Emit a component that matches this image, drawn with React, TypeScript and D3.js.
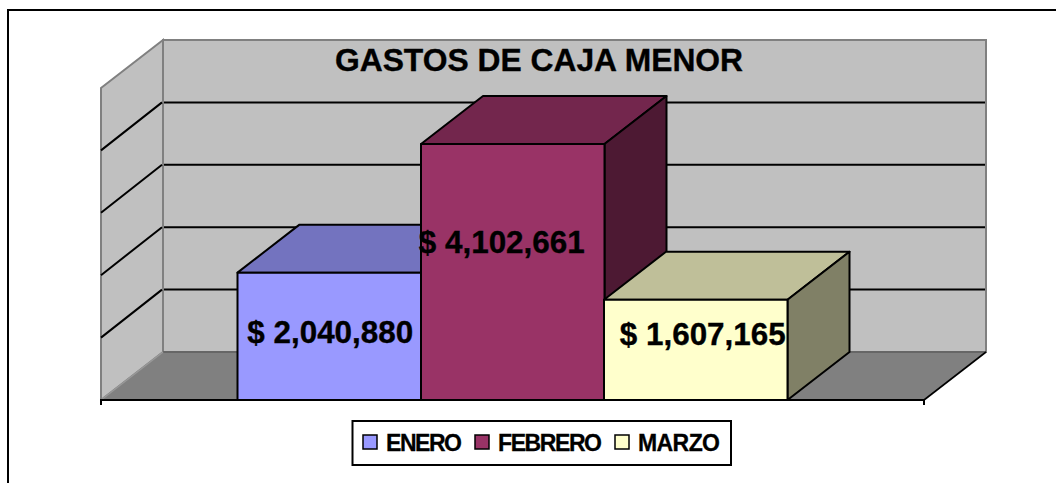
import React from "react";
import * as d3 from "d3";

const categories = ["ENERO", "FEBRERO", "MARZO"];
const values = [2040880, 4102661, 1607165];
const fills = ["#9999FF", "#993366", "#FFFFCC"];
const topFills = ["#7373BF", "#73264D", "#BFBF99"];
const sideFills = ["#4D4D80", "#4D1933", "#808066"];
const yTicks = [0, 1000000, 2000000, 3000000, 4000000, 5000000];
const labelShift = [1, -11, 7];
const labelBaseline = [343, 253, 345];
const legendSwatchX = [363, 475, 615];
const legendTextX = [386, 498, 638];
const legendTextW = [76, 104, 82];

const WIDTH = 1056;
const HEIGHT = 483;
const DX = 62;
const DY = 48;

const x = d3.scaleBand<string>().domain(["", ...categories, " "]).range([101, 924]);
const barX = d3.scaleOrdinal<string, number>().domain(categories).range([237.5, 421, 604]);
const barW = 183.5;
const y = d3.scaleLinear().domain([0, 5000000]).range([400, 88]);
const fmt = (v: number) => "$ " + d3.format(",")(v);
const poly = (pts: [number, number][]) => pts.map((p) => p.join(",")).join(" ");

export default function App() {
  const [x0, x1] = x.range();
  const top = y(5000000);
  const base = y(0);
  return (
    <svg
      width={WIDTH}
      height={HEIGHT}
      style={{ position: "absolute", left: 0, top: 0, background: "#fff" }}
      fontFamily="'Liberation Sans', Arial, sans-serif"
    >
      <path d={`M8 483V10H1056`} fill="none" stroke="#000" strokeWidth={2} />
      {/* walls */}
      <polygon
        points={poly([[x0 + DX, top - DY], [x1 + DX, top - DY], [x1 + DX, base - DY], [x0 + DX, base - DY]])}
        fill="#C0C0C0"
        stroke="#808080"
        strokeWidth={2}
      />
      <polygon
        points={poly([[x0, top], [x0 + DX, top - DY], [x0 + DX, base - DY], [x0, base]])}
        fill="#C0C0C0"
        stroke="#808080"
        strokeWidth={2}
      />
      {yTicks.slice(1, -1).map((t) => (
        <path
          key={t}
          d={`M${x0} ${y(t)}L${x0 + DX - 1} ${y(t) - DY}M${x0 + DX + 1} ${y(t) - DY}H${x1 + DX - 1}`}
          fill="none"
          stroke="#000"
          strokeWidth={2}
        />
      ))}
      {/* floor */}
      <polygon
        points={poly([[x0, base], [x0 + DX, base - DY], [x1 + DX, base - DY], [x1, base]])}
        fill="#808080"
      />
      <path d={`M${x0 + DX} ${base - DY}H${x1 + DX}`} stroke="#666" strokeWidth={2} fill="none" />
      <path d={`M${x0} ${base}L${x0 + DX} ${base - DY}`} stroke="#999" strokeWidth={1.5} fill="none" />
      <path d={`M${x1} ${base}L${x1 + DX} ${base - DY}`} stroke="#000" strokeWidth={1.6} fill="none" />
      <path d={`M${x0} ${base + 5}V${base}H${x1}V${base + 5}`} stroke="#000" strokeWidth={2} fill="none" />
      {/* bars */}
      {categories.map((c, i) => {
        const l = barX(c);
        const r = l + barW;
        const t = y(values[i]);
        return (
          <g key={c} stroke="#000" strokeWidth={2} strokeLinejoin="round">
            <polygon points={poly([[l, t], [l + DX, t - DY], [r + DX, t - DY], [r, t]])} fill={topFills[i]} />
            <polygon points={poly([[r, t], [r + DX, t - DY], [r + DX, base - DY], [r, base]])} fill={sideFills[i]} />
            <rect x={l} y={t} width={barW} height={base - t} fill={fills[i]} />
          </g>
        );
      })}
      {categories.map((c, i) => (
        <text
          key={c}
          x={barX(c) + barW / 2 + labelShift[i]}
          y={labelBaseline[i]}
          textAnchor="middle"
          fontSize={31.4}
          fontWeight="bold"
          fill="#000"
          stroke="#000"
          strokeWidth={0.35}
        >
          {fmt(values[i])}
        </text>
      ))}
      <text x={539} y={71} textAnchor="middle" fontSize={31.8} fontWeight="bold" fill="#000" stroke="#000" strokeWidth={0.35}>
        GASTOS DE CAJA MENOR
      </text>
      {/* legend */}
      <rect x={352.5} y={421} width={378.5} height={44} fill="#fff" stroke="#000" strokeWidth={2} />
      {categories.map((c, i) => (
        <g key={c}>
          <rect x={legendSwatchX[i]} y={435} width={14} height={14} fill={fills[i]} stroke="#000" strokeWidth={1.5} />
          <text
            x={legendTextX[i]}
            y={451}
            fontSize={23}
            fontWeight="bold"
            fill="#000"
            stroke="#000"
            strokeWidth={0.3}
            textLength={legendTextW[i]}
            lengthAdjust="spacing"
          >
            {c}
          </text>
        </g>
      ))}
    </svg>
  );
}
